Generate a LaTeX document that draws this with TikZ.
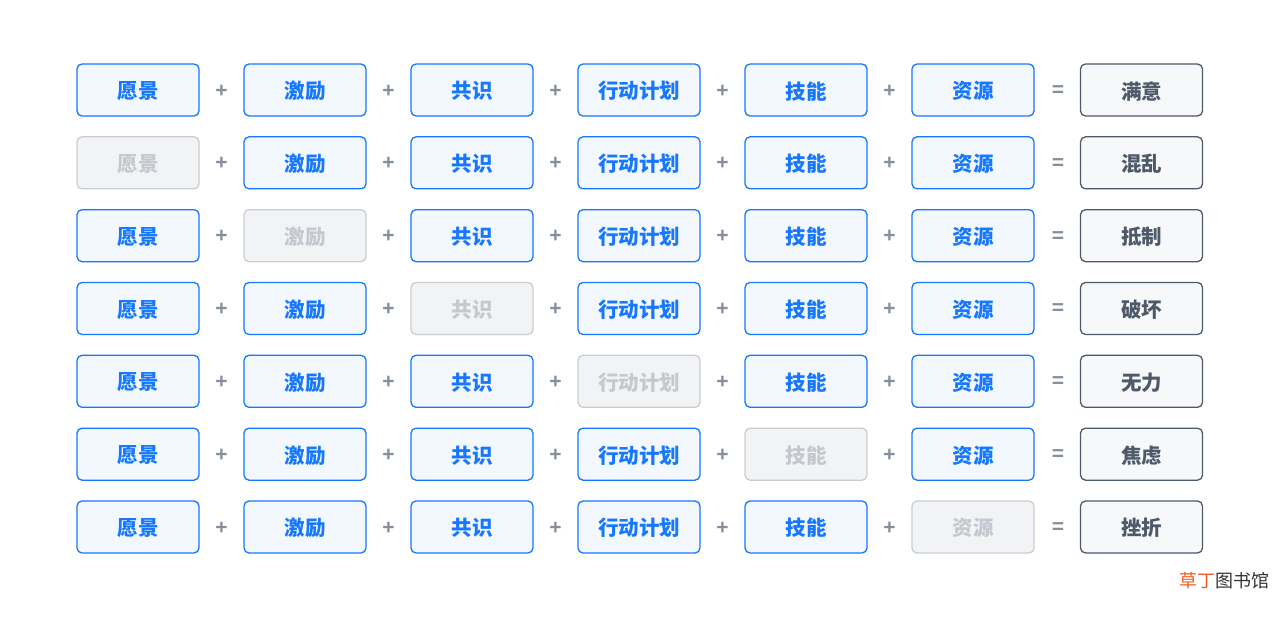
\documentclass[tikz,border=0pt]{standalone}
\usepackage{fontspec}
\newfontfamily\cjk{Noto Sans CJK SC}
\newfontfamily\opfont{Liberation Sans}
\definecolor{blueB}{HTML}{1677FF}
\definecolor{blueF}{HTML}{F3F8FF}
\definecolor{grayB}{HTML}{C9CDD4}
\definecolor{grayF}{HTML}{F2F3F5}
\definecolor{grayT}{HTML}{C4C8CF}
\definecolor{resB}{HTML}{4E5969}
\definecolor{resF}{HTML}{F7F8FA}
\definecolor{opC}{HTML}{86909C}
\definecolor{wmO}{HTML}{F25A1E}
\definecolor{wmD}{HTML}{333333}
\newcommand{\lowtxt}[1]{\raisebox{-1.2pt}[\height][\depth]{#1}}
\tikzset{
  base/.style={rounded corners=5pt, minimum width=122pt, minimum height=52pt, line width=1.3pt, font=\cjk\bfseries\fontsize{20.5}{20.5}\selectfont, inner sep=0pt},
  on/.style={base, draw=blueB, fill=blueF, text=blueB},
  off/.style={base, draw=grayB, fill=grayF, text=grayT},
  res/.style={base, draw=resB, fill=resF, text=resB},
  op/.style={font=\opfont\bfseries\fontsize{21}{21}\selectfont, text=opC, inner sep=0pt},
}
\begin{document}
\begin{tikzpicture}[x=1pt,y=-1pt]
\useasboundingbox (0,0) rectangle (1280,616);
\fill[white] (0,0) rectangle (1280,616);
\foreach \res [count=\ri from 0] in {满意,混乱,抵制,破坏,无力,焦虑,挫折} {
  \pgfmathsetmacro{\yy}{90+72.83*\ri}
  \foreach \lab [count=\c from 1] in {愿景,激励,共识,行动计划,技能,资源} {
    \pgfmathsetmacro{\xx}{138+167*(\c-1)}
    \ifnum\c=\ri
      \node[off] (b\ri-\c) at (\xx,\yy) {\lowtxt{\lab}};
    \else
      \node[on] (b\ri-\c) at (\xx,\yy) {\lowtxt{\lab}};
    \fi
  }
  \foreach \c in {1,...,5} {
    \pgfmathsetmacro{\xx}{221.5+167*(\c-1)}
    \node[op] (p\ri-\c) at (\xx,\yy+1) {+};
  }
  \node[op] (e\ri) at (1058,\yy+1) {=};
  \node[res] (r\ri) at (1141.5,\yy) {\lowtxt{\res}};
}
\node[anchor=east, inner sep=0pt, font=\cjk\fontsize{18}{18}\selectfont] (wm) at (1270,580.5) {\textcolor{wmO}{草丁}\textcolor{wmD}{图书馆}};
\end{tikzpicture}
\end{document}
